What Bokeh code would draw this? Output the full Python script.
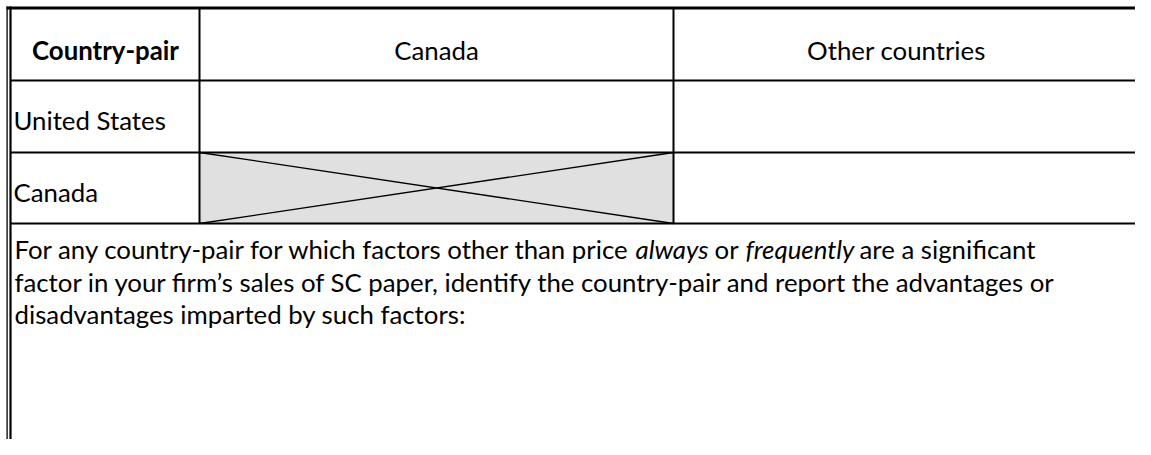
from bokeh.plotting import figure
from bokeh.models import Range1d
from bokeh.embed import file_html
from bokeh.resources import INLINE
from bokeh.core.properties import value

# ---- table content ----
col_headers = ["Country-pair", "Canada", "Other countries"]
row_labels = ["United States", "Canada"]
note_line1_parts = ["For any country-pair for which factors other than price", "always", "or", "frequently", "are a significant"]
note_line1_styles = ["normal", "italic", "normal", "italic", "normal"]
note_lines_rest = [
    "factor in your firm\u2019s sales of SC paper, identify the country-pair and report the advantages or",
    "disadvantages imparted by such factors:",
]

# ---- layout (picture pixel coordinates) ----
W, H = 1135, 439
FONT = value("Lato")
FS = "25.8px"
col_edges = [10, 199, 673]
row_edges = [80, 152, 223]
header_x = [105, 436, 896]
TY = -11  # baseline correction
header_y = 60 + TY
row_label_x = 13
row_label_y = [130 + TY, 202 + TY]
note_x1 = [14, 635, 714, 745, 859]
note_y = [259.5 + TY, 292 + TY, 324.5 + TY]

p = figure(width=W, height=H, x_range=Range1d(0, W), y_range=Range1d(H, 0),
           output_backend="svg", toolbar_location=None, min_border=0,
           x_axis_type=None, y_axis_type=None, outline_line_color=None,
           background_fill_color="white", border_fill_color="white")
p.xgrid.visible = False
p.ygrid.visible = False

# grey crossed-out cell
p.quad(left=[col_edges[1]], right=[col_edges[2]], top=[row_edges[1]], bottom=[row_edges[2]],
       fill_color="#e0e0e0", line_color=None)
p.segment(x0=[col_edges[1], col_edges[2]], y0=[row_edges[1], row_edges[1]],
          x1=[col_edges[2], col_edges[1]], y1=[row_edges[2], row_edges[2]],
          line_color="black", line_width=1.3)

# horizontal rules
p.segment(x0=[10] * 3, y0=row_edges, x1=[W + 5] * 3, y1=row_edges, line_color="black", line_width=2)
# vertical rules
p.segment(x0=col_edges[1:], y0=[7, 7], x1=col_edges[1:], y1=[row_edges[2]] * 2, line_color="black", line_width=2)
# top border
p.segment(x0=[6], y0=[7.5], x1=[W + 5], y1=[7.5], line_color="black", line_width=3)
# left double border
p.segment(x0=[6.6, 10], y0=[6, 6], x1=[6.6, 10], y1=[H + 5, H + 5], line_color="black", line_width=[1.3, 2.2])

# headers
p.text(x=[header_x[0]], y=[header_y], text=[col_headers[0]], text_font=FONT, text_font_size=FS,
       text_font_style="bold", text_align="center", text_baseline="alphabetic", text_color="black")
p.text(x=header_x[1:], y=[header_y] * 2, text=col_headers[1:], text_font=FONT, text_font_size=FS,
       text_align="center", text_baseline="alphabetic", text_color="black")
# row labels
p.text(x=[row_label_x] * 2, y=row_label_y, text=row_labels, text_font=FONT, text_font_size=FS,
       text_align="left", text_baseline="alphabetic", text_color="black")

# note line 1 (mixed normal / italic)
for txt, sty, x in zip(note_line1_parts, note_line1_styles, note_x1):
    p.text(x=[x], y=[note_y[0]], text=[txt], text_font=FONT, text_font_size=FS, text_font_style=sty,
           text_align="left", text_baseline="alphabetic", text_color="black")
# note lines 2-3
p.text(x=[note_x1[0]] * 2, y=note_y[1:], text=note_lines_rest, text_font=FONT, text_font_size=FS,
       text_align="left", text_baseline="alphabetic", text_color="black")

open("out.html", "w").write(file_html(p, INLINE))
